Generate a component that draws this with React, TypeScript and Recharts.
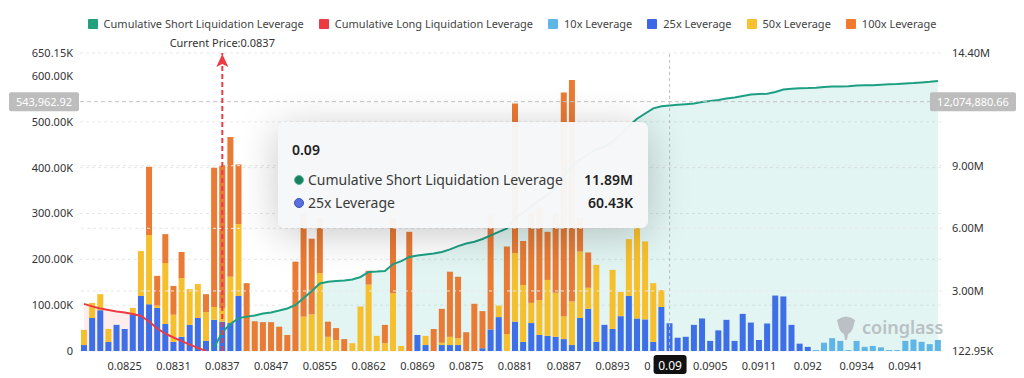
import React from "react";
import {
  ComposedChart,
  Bar,
  Line,
  Area,
  XAxis,
  YAxis,
  CartesianGrid,
  ReferenceLine,
} from "recharts";

// price levels (x categories)
const prices = [
  "0.0819", "0.082", "0.0822", "0.0823", "0.0824", "0.0825", "0.0826", "0.0827", "0.0828", "0.0829",
  "0.083", "0.0831", "0.0832", "0.0833", "0.0834", "0.0835", "0.0836", "0.0837", "0.0839", "0.084",
  "0.0842", "0.0843", "0.0845", "0.0847", "0.0848", "0.085", "0.0851", "0.0852", "0.0854", "0.0855",
  "0.0856", "0.0857", "0.0859", "0.086", "0.0861", "0.0862", "0.0863", "0.0864", "0.0866", "0.0867",
  "0.0868", "0.0869", "0.087", "0.0871", "0.0872", "0.0873", "0.0874", "0.0875", "0.0876", "0.0877",
  "0.0878", "0.0879", "0.088", "0.0881", "0.0882", "0.0883", "0.0884", "0.0885", "0.0886", "0.0887",
  "0.0888", "0.0889", "0.089", "0.0891", "0.0892", "0.0893", "0.0894", "0.0895", "0.0896", "0.0897",
  "0.0898", "0.0899", "0.09", "0.0901", "0.0902", "0.0903", "0.0904", "0.0905", "0.0906", "0.0907",
  "0.0908", "0.0909", "0.091", "0.0911", "0.0912", "0.0914", "0.0915", "0.0917", "0.0918", "0.092",
  "0.0922", "0.0925", "0.0927", "0.093", "0.0932", "0.0934", "0.0935", "0.0936", "0.0937", "0.0938",
  "0.094", "0.0941", "0.0942", "0.0943", "0.0944", "0.0945",
];

// leverage bars, in K
const lev10 = [
  0, 0, 0, 0, 0, 0, 0, 0, 0, 0, 0, 0, 0, 0, 0, 0, 0, 0, 0, 0,
  0, 0, 0, 0, 0, 0, 0, 0, 0, 0, 0, 0, 0, 0, 0, 0, 0, 0, 0, 0,
  0, 0, 0, 0, 0, 0, 0, 0, 0, 0, 0, 0, 0, 0, 0, 0, 0, 0, 0, 0,
  0, 0, 0, 0, 0, 0, 0, 0, 0, 0, 0, 0, 0, 0, 0, 0, 0, 0, 0, 0,
  0, 0, 0, 0, 0, 0, 0, 0, 0, 0, 2, 18, 28, 22, 2, 22, 9, 11, 8, 2,
  2, 22, 25, 20, 15, 24,
];
const lev25 = [
  13, 72, 89, 20, 57, 48, 80, 120, 102, 94, 59, 20, 31, 57, 72, 22, 68, 64, 61, 120,
  0, 0, 0, 0, 0, 0, 0, 0, 0, 0, 0, 0, 0, 0, 0, 0, 0, 0, 0, 0,
  0, 35, 13, 0, 13, 13, 13, 0, 0, 6, 47, 74, 0, 64, 20, 61, 35, 33, 31, 26,
  13, 72, 92, 20, 57, 48, 76, 120, 71, 69, 20, 96, 60.43, 29, 31, 57, 71, 22, 45, 68,
  22, 81, 62, 24, 60, 121, 119, 57, 16, 9, 0, 0, 0, 0, 0, 0, 0, 0, 0, 0,
  0, 0, 0, 0, 0, 0,
];
const lev50 = [
  33, 33, 35, 28, 0, 0, 14, 98, 151, 5, 133, 59, 128, 78, 74, 63, 28, 30, 101, 157,
  0, 0, 0, 0, 0, 0, 0, 75, 80, 170, 31, 24, 0, 17, 97, 145, 33, 17, 126, 11,
  0, 0, 20, 0, 5, 18, 15, 0, 0, 0, 0, 25, 37, 150, 124, 44, 76, 122, 96, 50,
  95, 145, 46, 168, 0, 129, 53, 124, 204, 170, 128, 37, 0, 0, 0, 0, 0, 0, 0, 0,
  0, 0, 0, 0, 0, 0, 0, 0, 0, 0, 0, 0, 0, 0, 0, 0, 0, 0, 0, 0,
  0, 0, 0, 0, 0, 0,
];
const lev100 = [
  0, 0, 0, 0, 0, 0, 0, 0, 149, 65, 63, 63, 57, 0, 0, 39, 304, 311, 305, 130,
  148, 65, 63, 63, 53, 35, 195, 225, 165, 120, 33, 26, 26, 0, 0, 30, 0, 40, 164, 0,
  260, 0, 0, 48, 74, 142, 134, 41, 103, 81, 250, 0, 191, 326, 96, 195, 200, 105, 173, 488,
  483, 73, 77, 0, 0, 0, 0, 0, 0, 0, 0, 0, 0, 0, 0, 0, 0, 0, 0, 0,
  0, 0, 0, 0, 0, 0, 0, 0, 0, 0, 0, 0, 0, 0, 0, 0, 0, 0, 0, 0,
  0, 0, 0, 0, 0, 0,
];

// cumulative liquidation leverage, in M
const cumShort = [
  null, null, null, null, null, null, null, null, null, null, null, null, null, null, null, null,
  0.3, 1.03, 1.42, 1.7, 1.77, 1.82, 1.92, 1.97, 2.06, 2.16, 2.33, 2.66, 3.0, 3.36,
  3.44, 3.48, 3.5, 3.55, 3.67, 3.91, 3.93, 3.96, 4.29, 4.43, 4.63, 4.7, 4.75, 4.79,
  4.87, 4.99, 5.15, 5.27, 5.36, 5.49, 5.66, 5.83, 5.99, 6.5, 6.75, 7.05, 7.35, 7.6,
  7.9, 8.45, 9.0, 9.3, 9.55, 9.8, 9.9, 10.15, 10.5, 10.9, 11.25, 11.5, 11.75, 11.85,
  11.89, 11.92, 11.95, 11.98, 12.05, 12.1, 12.15, 12.22, 12.27, 12.34, 12.41, 12.43,
  12.45, 12.53, 12.65, 12.69, 12.71, 12.72, 12.74, 12.77, 12.79, 12.8, 12.81, 12.84,
  12.85, 12.86, 12.88, 12.9, 12.91, 12.94, 12.96, 12.99, 13.02, 13.06,
];
const cumLong = [
  2.38, 2.26, 2.16, 2.09, 2.02, 1.97, 1.9, 1.8, 1.54, 1.2, 0.96, 0.77, 0.6, 0.43, 0.27, 0.123,
];

const leftTicks = [0, 100, 200, 300, 400, 500, 600, 650.15];
const rightTicks = [0.12295, 3, 6, 9, 14.4];
const rightGrid = [3, 6, 9];
const shownTicks = [
  "0.0825", "0.0831", "0.0837", "0.0847", "0.0855", "0.0862", "0.0869", "0.0875", "0.0881",
  "0.0887", "0.0893", "0.0905", "0.0911", "0.092", "0.0934", "0.0941",
];
const coveredTick = "0.0899"; // sits under the hover box, only its first "0" shows
const currentPrice = "0.0837";
const hoverPrice = "0.09";
const crossLeft = 543.96292;
const crossRight = 12.07488066;

const C = {
  short: "#1c9f83",
  long: "#ec3b43",
  l10: "#5fb5e6",
  l25: "#3e6fe6",
  l50: "#f6bf2e",
  l100: "#ea7b35",
};

const legendItems = [
  { name: "Cumulative Short Liquidation Leverage", color: "#22a079" },
  { name: "Cumulative Long Liquidation Leverage", color: C.long },
  { name: "10x Leverage", color: C.l10 },
  { name: "25x Leverage", color: "#3b68e8" },
  { name: "50x Leverage", color: "#f8c030" },
  { name: "100x Leverage", color: "#ef7a30" },
];

const rows = prices.map((p, i) => ({
  price: p,
  l10: lev10[i],
  l25: lev25[i],
  l50: lev50[i],
  l100: lev100[i],
  short: cumShort[i] ?? null,
  long: i < cumLong.length ? cumLong[i] : null,
}));

const FONT = "'Noto Sans', sans-serif";

const fmtLeft = (v: number) => (v === 0 ? "0" : v.toFixed(2) + "K");
const fmtRight = (v: number) => (v < 1 ? (v * 1000).toFixed(2) + "K" : v.toFixed(2) + "M");
const fmtNum = (v: number) =>
  v.toLocaleString("en-US", { minimumFractionDigits: 2, maximumFractionDigits: 2 });

function PriceTick(props: any) {
  const { x, y, payload } = props;
  const v = payload.value;
  if (v === hoverPrice) {
    return (
      <g>
        <rect x={x - 16} y={y + 4} width={33} height={19} rx={3} fill="#111" />
        <text x={x + 0.5} y={y + 14} textAnchor="middle" dominantBaseline="central" fill="#fff" fontSize={12} fontFamily={FONT}>
          {v}
        </text>
      </g>
    );
  }
  if (v === coveredTick) {
    return (
      <text x={x - 11} y={y + 14} textAnchor="end" dominantBaseline="central" fill="#333" fontSize={11} fontFamily={FONT}>
        0
      </text>
    );
  }
  if (!shownTicks.includes(v)) return <g />;
  return (
    <text x={x} y={y + 14} textAnchor="middle" dominantBaseline="central" fill="#333" fontSize={11} fontFamily={FONT}>
      {v}
    </text>
  );
}

function CurrentPriceMark(props: any) {
  const vb = props.viewBox || {};
  const x = vb.x;
  const y = vb.y;
  return (
    <g>
      <path d={`M${x},${y + 1} L${x + 6},${y + 14} L${x},${y + 11} L${x - 6},${y + 14} Z`} fill={C.long} />
      <text x={x} y={y - 11} textAnchor="middle" dominantBaseline="central" fill="#333" fontSize={11} fontFamily={FONT}>
        Current Price:{currentPrice}
      </text>
    </g>
  );
}

function CrossLabels(props: any) {
  const vb = props.viewBox || {};
  const y = vb.y;
  const left = vb.x;
  const right = vb.x + vb.width;
  return (
    <g fontFamily={FONT} fontSize={11}>
      <rect x={left - 71} y={y - 9.5} width={70} height={19} rx={2} fill="#bdbdbd" />
      <text x={left - 36} y={y} textAnchor="middle" dominantBaseline="central" fill="#fff">
        {fmtNum(crossLeft * 1000)}
      </text>
      <rect x={right - 12} y={y - 9.5} width={86} height={19} rx={2} fill="#bdbdbd" />
      <text x={right + 31} y={y} textAnchor="middle" dominantBaseline="central" fill="#fff">
        {fmtNum(crossRight * 1e6)}
      </text>
    </g>
  );
}

function Legend() {
  return (
    <div
      style={{
        position: "absolute",
        top: 16,
        left: 0,
        width: 1024,
        display: "flex",
        justifyContent: "center",
        gap: 15,
        fontFamily: FONT,
        fontSize: 11,
        color: "#444",
        lineHeight: "16px",
      }}
    >
      {legendItems.map((it) => (
        <div key={it.name} style={{ display: "flex", alignItems: "center" }}>
          <span style={{ width: 10, height: 10, background: it.color, borderRadius: 1, marginRight: 6 }} />
          {it.name}
        </div>
      ))}
    </div>
  );
}

function HoverBox() {
  const idx = prices.indexOf(hoverPrice);
  const r = rows[idx];
  const line = (dot: string, ring: string, name: string, val: string, top: number) => (
    <div
      style={{
        position: "absolute",
        left: 16,
        right: 15,
        top,
        display: "flex",
        alignItems: "center",
        fontSize: 14,
        color: "#3a3a3a",
      }}
    >
      <span
        style={{
          width: 8,
          height: 8,
          borderRadius: 5,
          background: dot,
          border: `1px solid ${ring}`,
          marginRight: 4,
        }}
      />
      <span style={{ flex: 1 }}>{name}</span>
      <span style={{ color: "#222", fontWeight: 600 }}>{val}</span>
    </div>
  );
  return (
    <div
      style={{
        position: "absolute",
        left: 278,
        top: 122,
        width: 370,
        height: 106,
        background: "rgba(246,247,248,0.97)",
        borderRadius: 7,
        boxShadow: "0 6px 40px rgba(0,0,0,0.22)",
        fontFamily: FONT,
      }}
    >
      <div style={{ position: "absolute", left: 14, top: 18, fontSize: 14, fontWeight: 600, color: "#222" }}>
        {hoverPrice}
      </div>
      {line("#17805f", "#5fb89b", "Cumulative Short Liquidation Leverage", fmtRight(r.short as number), 48)}
      {line("#5b6fe0", "#3b4fb8", "25x Leverage", r.l25.toFixed(2) + "K", 71)}
    </div>
  );
}

function Watermark() {
  return (
    <div
      style={{
        position: "absolute",
        left: 834,
        top: 314,
        display: "flex",
        alignItems: "center",
        fontFamily: FONT,
        fontSize: 18,
        fontWeight: 600,
        color: "#b6bbc0",
        opacity: 0.9,
      }}
    >
      <svg width={24} height={26} style={{ marginRight: 4 }}>
        <path d="M3,6 Q12,-1 21,6 L19,14 Q17,19 14,20 L13,26 L11,26 L10,20 Q7,19 5,14 Z" fill="#b6bbc0" />
      </svg>
      coinglass
    </div>
  );
}

export default function App() {
  return (
    <div style={{ position: "absolute", left: 0, top: 0, width: 1024, height: 378, background: "#fff" }}>
      <ComposedChart
        width={1024}
        height={378}
        data={rows}
        margin={{ top: 53, right: 0, bottom: 0, left: 0 }}
        barSize={6}
      >
        <CartesianGrid vertical={false} yAxisId="left" stroke="#e8e8e8" strokeDasharray="3 3" />
        <XAxis
          dataKey="price"
          interval={0}
          height={27}
          tickLine={false}
          axisLine={false}
          tickSize={0}
          tickMargin={0}
          tick={<PriceTick />}
        />
        <YAxis
          yAxisId="left"
          width={80}
          domain={[0, 650.15]}
          ticks={leftTicks}
          allowDataOverflow
          tickFormatter={fmtLeft}
          axisLine={false}
          tickLine={false}
          tickSize={0}
          tickMargin={7}
          tick={{ fill: "#333", fontSize: 11, fontFamily: FONT }}
        />
        <YAxis
          yAxisId="right"
          orientation="right"
          width={82}
          domain={[0.12295, 14.4]}
          ticks={rightTicks}
          allowDataOverflow
          tickFormatter={fmtRight}
          axisLine={false}
          tickLine={false}
          tickSize={0}
          tickMargin={10}
          tick={{ fill: "#333", fontSize: 11, fontFamily: FONT, textAnchor: "start" }}
        />
        {rightGrid.map((v) => (
          <ReferenceLine key={v} yAxisId="right" y={v} stroke="#e8e8e8" strokeDasharray="3 3" />
        ))}
        <Area
          yAxisId="right"
          dataKey="short"
          stroke="none"
          fill="#3bbfa6"
          fillOpacity={0.15}
          isAnimationActive={false}
        />
        <Area
          yAxisId="right"
          dataKey="long"
          stroke="none"
          fill="#f04a50"
          fillOpacity={0.1}
          isAnimationActive={false}
        />
        <Bar yAxisId="left" dataKey="l10" stackId="s" fill={C.l10} isAnimationActive={false} />
        <Bar yAxisId="left" dataKey="l25" stackId="s" fill={C.l25} isAnimationActive={false} />
        <Bar yAxisId="left" dataKey="l50" stackId="s" fill={C.l50} isAnimationActive={false} />
        <Bar yAxisId="left" dataKey="l100" stackId="s" fill={C.l100} isAnimationActive={false} />
        <Line
          yAxisId="right"
          dataKey="short"
          stroke={C.short}
          strokeWidth={2}
          dot={false}
          activeDot={false}
          isAnimationActive={false}
        />
        <Line
          yAxisId="right"
          dataKey="long"
          stroke={C.long}
          strokeWidth={2}
          dot={false}
          activeDot={false}
          isAnimationActive={false}
        />
        <ReferenceLine yAxisId="left" x={hoverPrice} stroke="#bdbdbd" strokeDasharray="3 3" />
        <ReferenceLine
          yAxisId="left"
          y={crossLeft}
          stroke="#c4c4c4"
          strokeDasharray="4 3"
          label={(p: any) => <CrossLabels {...p} />}
        />
        <ReferenceLine
          yAxisId="left"
          x={currentPrice}
          stroke={C.long}
          strokeWidth={2}
          strokeDasharray="5 3"
          label={(p: any) => <CurrentPriceMark {...p} />}
        />
      </ComposedChart>
      <Legend />
      <Watermark />
      <HoverBox />
    </div>
  );
}
